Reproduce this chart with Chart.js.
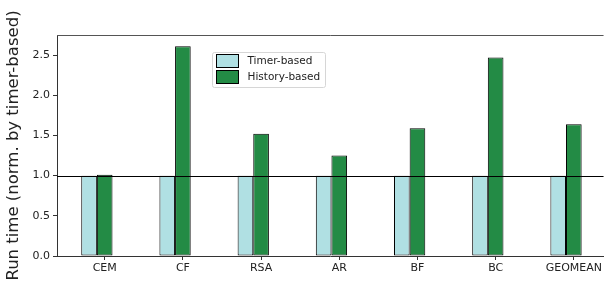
<!DOCTYPE html>
<html lang="en">
<head>
    <meta charset="UTF-8">
    <title>Run time, timer-based vs history-based</title>
    <style>
        body {
            margin: 0;
            padding: 0;
            background: #fff;
            overflow: hidden;
        }
        #chart {
            display: block;
        }
    </style>
</head>
<body>
    <canvas id="chart" width="604" height="284"></canvas>

    <script src="https://cdn.jsdelivr.net/npm/chart.js"></script>
    <script>
        const categories = ['CEM', 'CF', 'RSA', 'AR', 'BF', 'BC', 'GEOMEAN'];
        const timerBased = [1.0, 1.0, 1.0, 1.0, 1.0, 1.0, 1.0];
        const historyBased = [1.01, 2.61, 1.52, 1.25, 1.59, 2.47, 1.64];
        const yTicks = [0, 0.5, 1.0, 1.5, 2.0, 2.5];

        const FONT = 'DejaVu Sans';
        const AXIS = '#333';

        // bars sit on a linear x scale so the margins can match the original
        const toPoints = (vals) => vals.map((v, i) => ({ x: i, y: v }));

        // a third, empty slot in each group keeps history bars centred on the tick
        const spacer = categories.map((c, i) => ({ x: i, y: null }));

        const frameAndBaseline = {
            id: 'frameAndBaseline',
            afterDatasetsDraw(chart) {
                const { ctx, chartArea: a, scales } = chart;
                ctx.save();
                // reference line at 1.0
                const y1 = Math.round(scales.y.getPixelForValue(1)) + 0.5;
                ctx.strokeStyle = '#000';
                ctx.lineWidth = 1.2;
                ctx.beginPath();
                ctx.moveTo(a.left, y1);
                ctx.lineTo(a.right, y1);
                ctx.stroke();
                // top spine (right one falls outside the picture)
                ctx.strokeStyle = '#555';
                ctx.lineWidth = 1;
                ctx.beginPath();
                ctx.moveTo(a.left, Math.round(a.top) + 0.5);
                ctx.lineTo(a.right, Math.round(a.top) + 0.5);
                ctx.stroke();
                ctx.restore();
            }
        };

        const boxLegend = {
            id: 'boxLegend',
            afterDraw(chart) {
                const ctx = chart.ctx;
                const items = chart.data.datasets.filter(d => d.label);
                const x0 = 212.5, y0 = 52.5, w = 113, h = 35;
                ctx.save();
                ctx.fillStyle = 'rgba(255,255,255,0.8)';
                ctx.strokeStyle = '#d6d6d6';
                ctx.lineWidth = 1;
                ctx.beginPath();
                ctx.roundRect(x0, y0, w, h, 2);
                ctx.fill();
                ctx.stroke();
                ctx.font = '10.5px "' + FONT + '"';
                ctx.textBaseline = 'middle';
                items.forEach((d, i) => {
                    const py = y0 + 2 + i * 16;
                    ctx.fillStyle = d.backgroundColor;
                    ctx.fillRect(x0 + 4, py, 22, 13);
                    ctx.strokeStyle = '#000';
                    ctx.strokeRect(x0 + 4, py, 22, 13);
                    ctx.fillStyle = '#222';
                    ctx.fillText(d.label, x0 + 35, py + 7);
                });
                ctx.restore();
            }
        };

        const ctx = document.getElementById('chart').getContext('2d');
        new Chart(ctx, {
            type: 'bar',
            data: {
                datasets: [
                    {
                        label: 'Timer-based',
                        data: toPoints(timerBased),
                        backgroundColor: '#b0e0e3',
                        borderColor: '#000',
                        borderWidth: 1,
                        borderSkipped: false
                    },
                    {
                        label: 'History-based',
                        data: toPoints(historyBased),
                        backgroundColor: '#238b45',
                        borderColor: '#000',
                        borderWidth: 1,
                        borderSkipped: false
                    },
                    {
                        label: '',
                        data: spacer,
                        backgroundColor: 'rgba(0,0,0,0)'
                    }
                ]
            },
            options: {
                responsive: false,
                animation: false,
                devicePixelRatio: 1,
                categoryPercentage: 0.6,
                barPercentage: 1.0,
                layout: {
                    padding: { top: 35, right: 0, left: 0, bottom: 0 }
                },
                plugins: {
                    legend: { display: false },
                    tooltip: { enabled: false }
                },
                scales: {
                    x: {
                        type: 'linear',
                        offset: false,
                        min: -0.61,
                        max: 6.38,
                        afterBuildTicks: (scale) => {
                            scale.ticks = categories.map((c, i) => ({ value: i }));
                        },
                        afterFit: (scale) => { scale.height = 28; },
                        ticks: {
                            callback: (v) => categories[v],
                            color: '#222',
                            font: { family: FONT, size: 11 },
                            padding: 2,
                            maxRotation: 0
                        },
                        grid: {
                            offset: false,
                            drawOnChartArea: false,
                            tickLength: 4,
                            tickColor: AXIS
                        },
                        border: { color: AXIS, width: 1 }
                    },
                    y: {
                        min: 0,
                        max: 2.75,
                        afterBuildTicks: (scale) => {
                            scale.ticks = yTicks.map(v => ({ value: v }));
                        },
                        afterFit: (scale) => { scale.width = 57; },
                        ticks: {
                            callback: (v) => v.toFixed(1),
                            color: '#222',
                            font: { family: FONT, size: 11 },
                            padding: 3
                        },
                        grid: {
                            drawOnChartArea: false,
                            tickLength: 4,
                            tickColor: AXIS
                        },
                        border: { color: AXIS, width: 1 },
                        title: {
                            display: true,
                            text: 'Run time (norm. by timer-based)',
                            color: '#222',
                            font: { family: FONT, size: 16.5 },
                            padding: { top: 4, bottom: 0 }
                        }
                    }
                }
            },
            plugins: [frameAndBaseline, boxLegend]
        });
    </script>
</body>
</html>
